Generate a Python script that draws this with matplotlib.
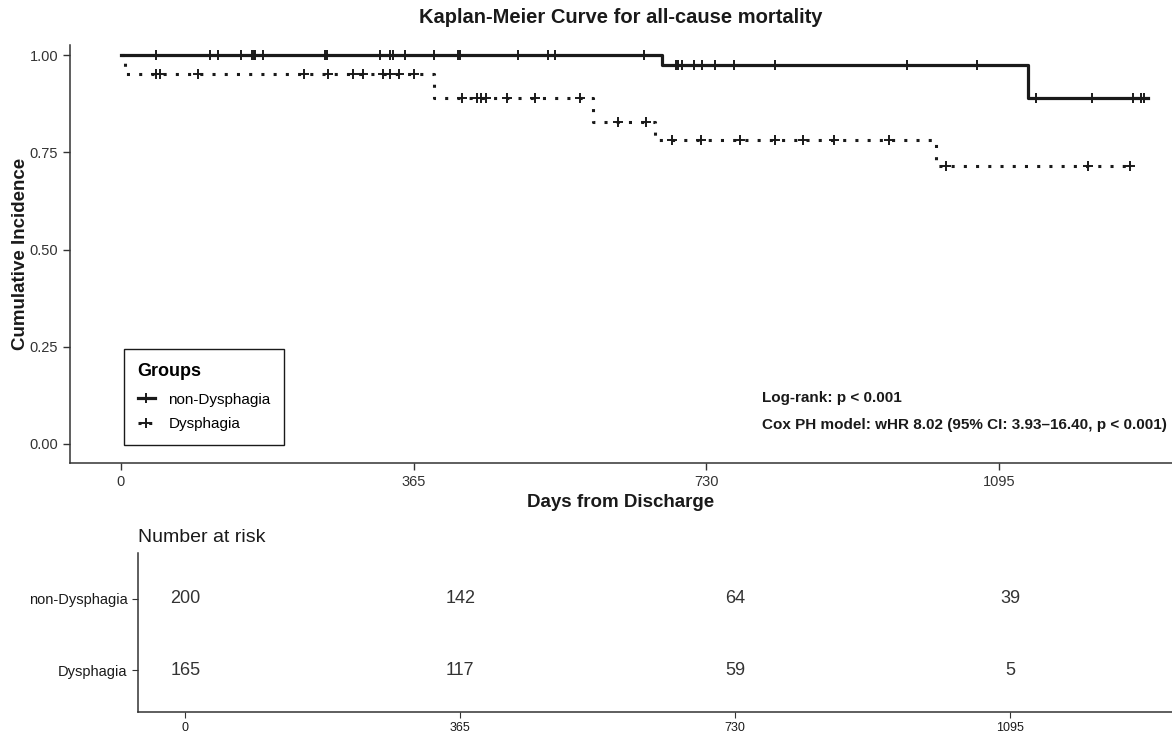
import numpy as np
import matplotlib
matplotlib.use("Agg")
import matplotlib.pyplot as plt
from matplotlib.lines import Line2D

plt.rcParams["font.family"] = ["Liberation Sans", "DejaVu Sans"]

GROUPS = ["non-Dysphagia", "Dysphagia"]

# Kaplan-Meier steps (days, survival)
non_dys_times = [0, 675, 1131, 1280]
non_dys_surv = [1.0, 0.974, 0.889, 0.889]
dys_times = [0, 5, 390, 589, 666, 1016, 1261]
dys_surv = [1.0, 0.952, 0.889, 0.827, 0.781, 0.714, 0.714]

# censoring times
non_dys_censor = [44, 111, 121, 150, 164, 166, 168, 177, 255, 257, 323, 336, 339,
                  354, 391, 420, 423, 495, 533, 541, 652, 692, 695, 700, 714, 725,
                  741, 764, 816, 980, 1067, 1141, 1210, 1261, 1271, 1275]
dys_censor = [44, 49, 97, 228, 259, 290, 302, 327, 336, 347, 366, 425, 444, 449,
              455, 482, 516, 573, 620, 655, 687, 723, 772, 816, 850, 889, 957,
              1029, 1205, 1258]

risk_ticks = [0, 365, 730, 1095]
risk_non_dys = [200, 142, 64, 39]
risk_dys = [165, 117, 59, 5]

INK = "#1a1a1a"
TXT = "#333333"


def surv_at(times, surv, t):
    idx = np.searchsorted(np.asarray(times), np.asarray(t), side="right") - 1
    return np.asarray(surv)[idx]


fig = plt.figure(figsize=(11.72, 7.38), dpi=100)
ax = fig.add_axes([0.0597, 0.3726, 0.9403, 0.5664])

ax.step(non_dys_times, non_dys_surv, where="post", color=INK, lw=2.3)
ax.step(dys_times, dys_surv, where="post", color=INK, lw=2.2,
        linestyle=(0, (1, 3)), dash_capstyle="butt")
ax.plot(non_dys_censor, surv_at(non_dys_times, non_dys_surv, non_dys_censor),
        linestyle="none", marker="+", ms=7, mew=1.4, color=INK)
ax.plot(dys_censor, surv_at(dys_times, dys_surv, dys_censor),
        linestyle="none", marker="+", ms=7, mew=1.4, color=INK)

ax.set_xlim(-63, 1310)
ax.set_ylim(-0.049, 1.026)
ax.set_xticks(risk_ticks)
ax.set_yticks([0, 0.25, 0.5, 0.75, 1.0])
ax.set_yticklabels(["0.00", "0.25", "0.50", "0.75", "1.00"])
ax.tick_params(labelsize=10.5, labelcolor=TXT, color=TXT, length=5, width=1)
for side in ["top", "right"]:
    ax.spines[side].set_visible(False)
for side in ["left", "bottom"]:
    ax.spines[side].set_color(TXT)
    ax.spines[side].set_linewidth(1.1)

ax.set_title("Kaplan-Meier Curve for all-cause mortality", fontsize=14.5,
             fontweight="bold", color=INK, pad=15.5)
ax.set_xlabel("Days from Discharge", fontsize=13.5, fontweight="bold",
              color=INK, labelpad=4)
ax.set_ylabel("Cumulative Incidence", fontsize=13.5, fontweight="bold",
              color=INK, labelpad=0)

handles = [
    Line2D([], [], color=INK, lw=2.3, marker="+", ms=7, mew=1.4),
    Line2D([], [], color=INK, lw=2.2, linestyle=(0, (1, 2.5)),
           dash_capstyle="butt", marker="+", ms=7, mew=1.4),
]
leg = ax.legend(handles, GROUPS, title="Groups", loc="lower left",
                bbox_to_anchor=(0.049, 0.043), borderaxespad=0,
                fancybox=False, framealpha=1, edgecolor=INK,
                fontsize=11, title_fontproperties={"weight": "bold", "size": 13},
                handlelength=1.1, handletextpad=0.9, borderpad=0.9,
                labelspacing=0.7)
leg._legend_box.align = "left"
leg._legend_box.sep = 9
leg.get_frame().set_linewidth(1.0)

ax.text(0.628, 0.1555, "Log-rank: p < 0.001", transform=ax.transAxes,
        fontsize=11, fontweight="bold", color=INK, va="center")
ax.text(0.628, 0.0909, "Cox PH model: wHR 8.02 (95% CI: 3.93\u201316.40, p < 0.001)",
        transform=ax.transAxes, fontsize=11, fontweight="bold", color=INK,
        va="center")

# number at risk table
tab = fig.add_axes([0.1177, 0.0352, 0.8823, 0.2154])
tab.set_xlim(-63, 1310)
tab.set_ylim(0.409, 2.646)
for t, a, b in zip(risk_ticks, risk_non_dys, risk_dys):
    tab.text(t, 2, str(a), ha="center", va="center", fontsize=13, color=TXT)
    tab.text(t, 1, str(b), ha="center", va="center", fontsize=13, color=TXT)
tab.set_xticks(risk_ticks)
tab.set_yticks([2, 1])
tab.set_yticklabels(GROUPS)
tab.tick_params(axis="x", labelsize=9, labelcolor=INK, color=TXT, length=4)
tab.tick_params(axis="y", labelsize=10.5, labelcolor=INK, color=TXT, length=4)
for side in ["top", "right"]:
    tab.spines[side].set_visible(False)
for side in ["left", "bottom"]:
    tab.spines[side].set_color(TXT)
    tab.spines[side].set_linewidth(1.1)
tab.set_title("Number at risk", loc="left", fontsize=14, color=INK, pad=8)

fig.savefig("out.png", dpi=100)
